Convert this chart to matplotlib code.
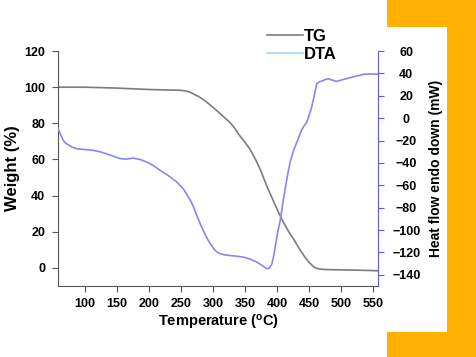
import matplotlib
matplotlib.use("Agg")
import matplotlib.pyplot as plt
from matplotlib.lines import Line2D
from matplotlib.patches import Rectangle

plt.rcParams['font.family'] = ['Liberation Sans', 'DejaVu Sans']
plt.rcParams['font.weight'] = 'bold'

# TG curve (weight %)
tg_temp = [58, 100, 150, 202, 235, 249, 258, 265, 270, 278, 285, 293, 301, 308, 315, 321,
           327, 334, 340, 349, 358, 365, 372, 378, 384, 390, 395, 400, 405, 410, 415, 420,
           426, 431, 436, 441, 446, 450, 455, 458, 462, 468, 475, 500, 530, 558]
tg_weight = [100, 100, 99.5, 98.7, 98.4, 98.3, 97.9, 97.2, 96.2, 94.8, 93.2, 91, 88.6, 86.4,
             84.2, 82.3, 80.3, 77.3, 74, 70, 65.6, 61, 56, 50.8, 45.3, 40.5, 36.5, 32.5,
             28.7, 25.2, 22, 19, 15.9, 12.8, 10, 7.2, 4.8, 3, 1.3, 0.4, -0.3, -0.7, -0.9,
             -1.1, -1.3, -1.6]

# DTA curve (heat flow, mW)
dta_temp = [58, 60, 62, 65, 67, 71, 75, 81, 88, 100, 114, 125, 135, 146, 156, 166, 176,
            187, 197, 208, 218, 231, 244, 255, 265, 270, 275, 280, 285, 291, 298, 304, 311,
            320, 330, 340, 348, 358, 369, 377, 384, 388, 392, 395, 398, 401, 405, 409, 413,
            417, 421, 426, 432, 438, 442, 446, 450, 454, 458, 462, 466, 470, 475, 480, 486,
            493, 503, 514, 525, 535, 545, 558]
dta_heat = [-8, -11, -14, -17.5, -20, -22.5, -24, -26, -27.3, -28, -28.8, -30.2, -32, -34.3,
            -36.2, -36.6, -35.7, -37, -39.3, -42.6, -46.7, -51.5, -57.2, -64, -73.5, -79.5,
            -87, -94, -100.4, -107.5, -114, -118.6, -121.2, -122.4, -123, -123.6, -124.3,
            -126, -128.7, -131.8, -134.6, -134.2, -130.2, -122.5, -112, -102, -91.4, -76,
            -62, -49, -37.8, -28.5, -20, -11, -7, -4, 2.5, 10, 20, 30.8, 32.5, 33.2, 34.5,
            35.3, 34, 32.9, 34.5, 36.2, 37.8, 39.2, 39.6, 39.2]

x_ticks = [100, 150, 200, 250, 300, 350, 400, 450, 500, 550]
left_ticks = [0, 20, 40, 60, 80, 100, 120]
right_ticks = [-140, -120, -100, -80, -60, -40, -20, 0, 20, 40, 60]

tg_color = '#7b7d7d'
dta_color = '#8a86f0'
axis_blue = '#5a5af5'
orange = '#ffb000'

fig = plt.figure(figsize=(4.76, 3.57), dpi=100)
ax = fig.add_axes([0.121, 0.199, 0.674, 0.658])
ax2 = ax.twinx()

ax.plot(tg_temp, tg_weight, color=tg_color, lw=1.2)
ax2.plot(dta_temp, dta_heat, color=dta_color, lw=1.2)

ax.set_xlim(58, 558)
ax.set_ylim(-10, 120)
ax2.set_ylim(-150, 60)
ax.set_xticks(x_ticks)
ax.set_yticks(left_ticks)
ax2.set_yticks(right_ticks)

ax.spines['top'].set_visible(False)
ax2.spines['top'].set_visible(False)
ax.spines['right'].set_visible(False)
ax2.spines['left'].set_visible(False)
ax2.spines['bottom'].set_visible(False)
ax.spines['left'].set_color('#555555')
ax.spines['bottom'].set_color('#555555')
ax2.spines['right'].set_color(axis_blue)

ax.tick_params(axis='both', colors='#555555', labelcolor='black', labelsize=9, length=4)
ax.tick_params(axis='x', pad=5)
ax.tick_params(axis='y', pad=5)
ax2.tick_params(axis='y', colors=axis_blue, labelcolor='black', labelsize=9, length=4, pad=16)
for lab in ax.get_xticklabels() + ax.get_yticklabels() + ax2.get_yticklabels():
    lab.set_fontweight('bold')
for lab in ax2.get_yticklabels():
    lab.set_horizontalalignment('center')

ax.set_xlabel(r'Temperature ($\mathregular{^o}$C)', fontsize=10.5, fontweight='bold', labelpad=2)
ax.set_ylabel('Weight (%)', fontsize=12, fontweight='bold', labelpad=3)
ax2.set_ylabel('Heat flow endo down (mW)', fontsize=10, fontweight='bold', labelpad=6)

handles = [Line2D([], [], color=tg_color, lw=1.2),
           Line2D([], [], color='#a8dcf0', lw=1.2)]
fig.legend(handles, ['TG', 'DTA'], loc='upper left', bbox_to_anchor=(0.561, 0.92),
           frameon=False, handlelength=2.15, handletextpad=0.08, labelspacing=0.2,
           borderpad=0, borderaxespad=0, prop={'weight': 'bold', 'size': 12})

# orange decoration around the right edge
fig.add_artist(Rectangle((0.813, 0.924), 0.187, 0.076, transform=fig.transFigure,
                         color=orange, lw=0))
fig.add_artist(Rectangle((0.939, 0.0), 0.061, 1.0, transform=fig.transFigure,
                         color=orange, lw=0))
fig.add_artist(Rectangle((0.813, 0.0), 0.187, 0.070, transform=fig.transFigure,
                         color=orange, lw=0))

fig.savefig('out.png', dpi=100)
